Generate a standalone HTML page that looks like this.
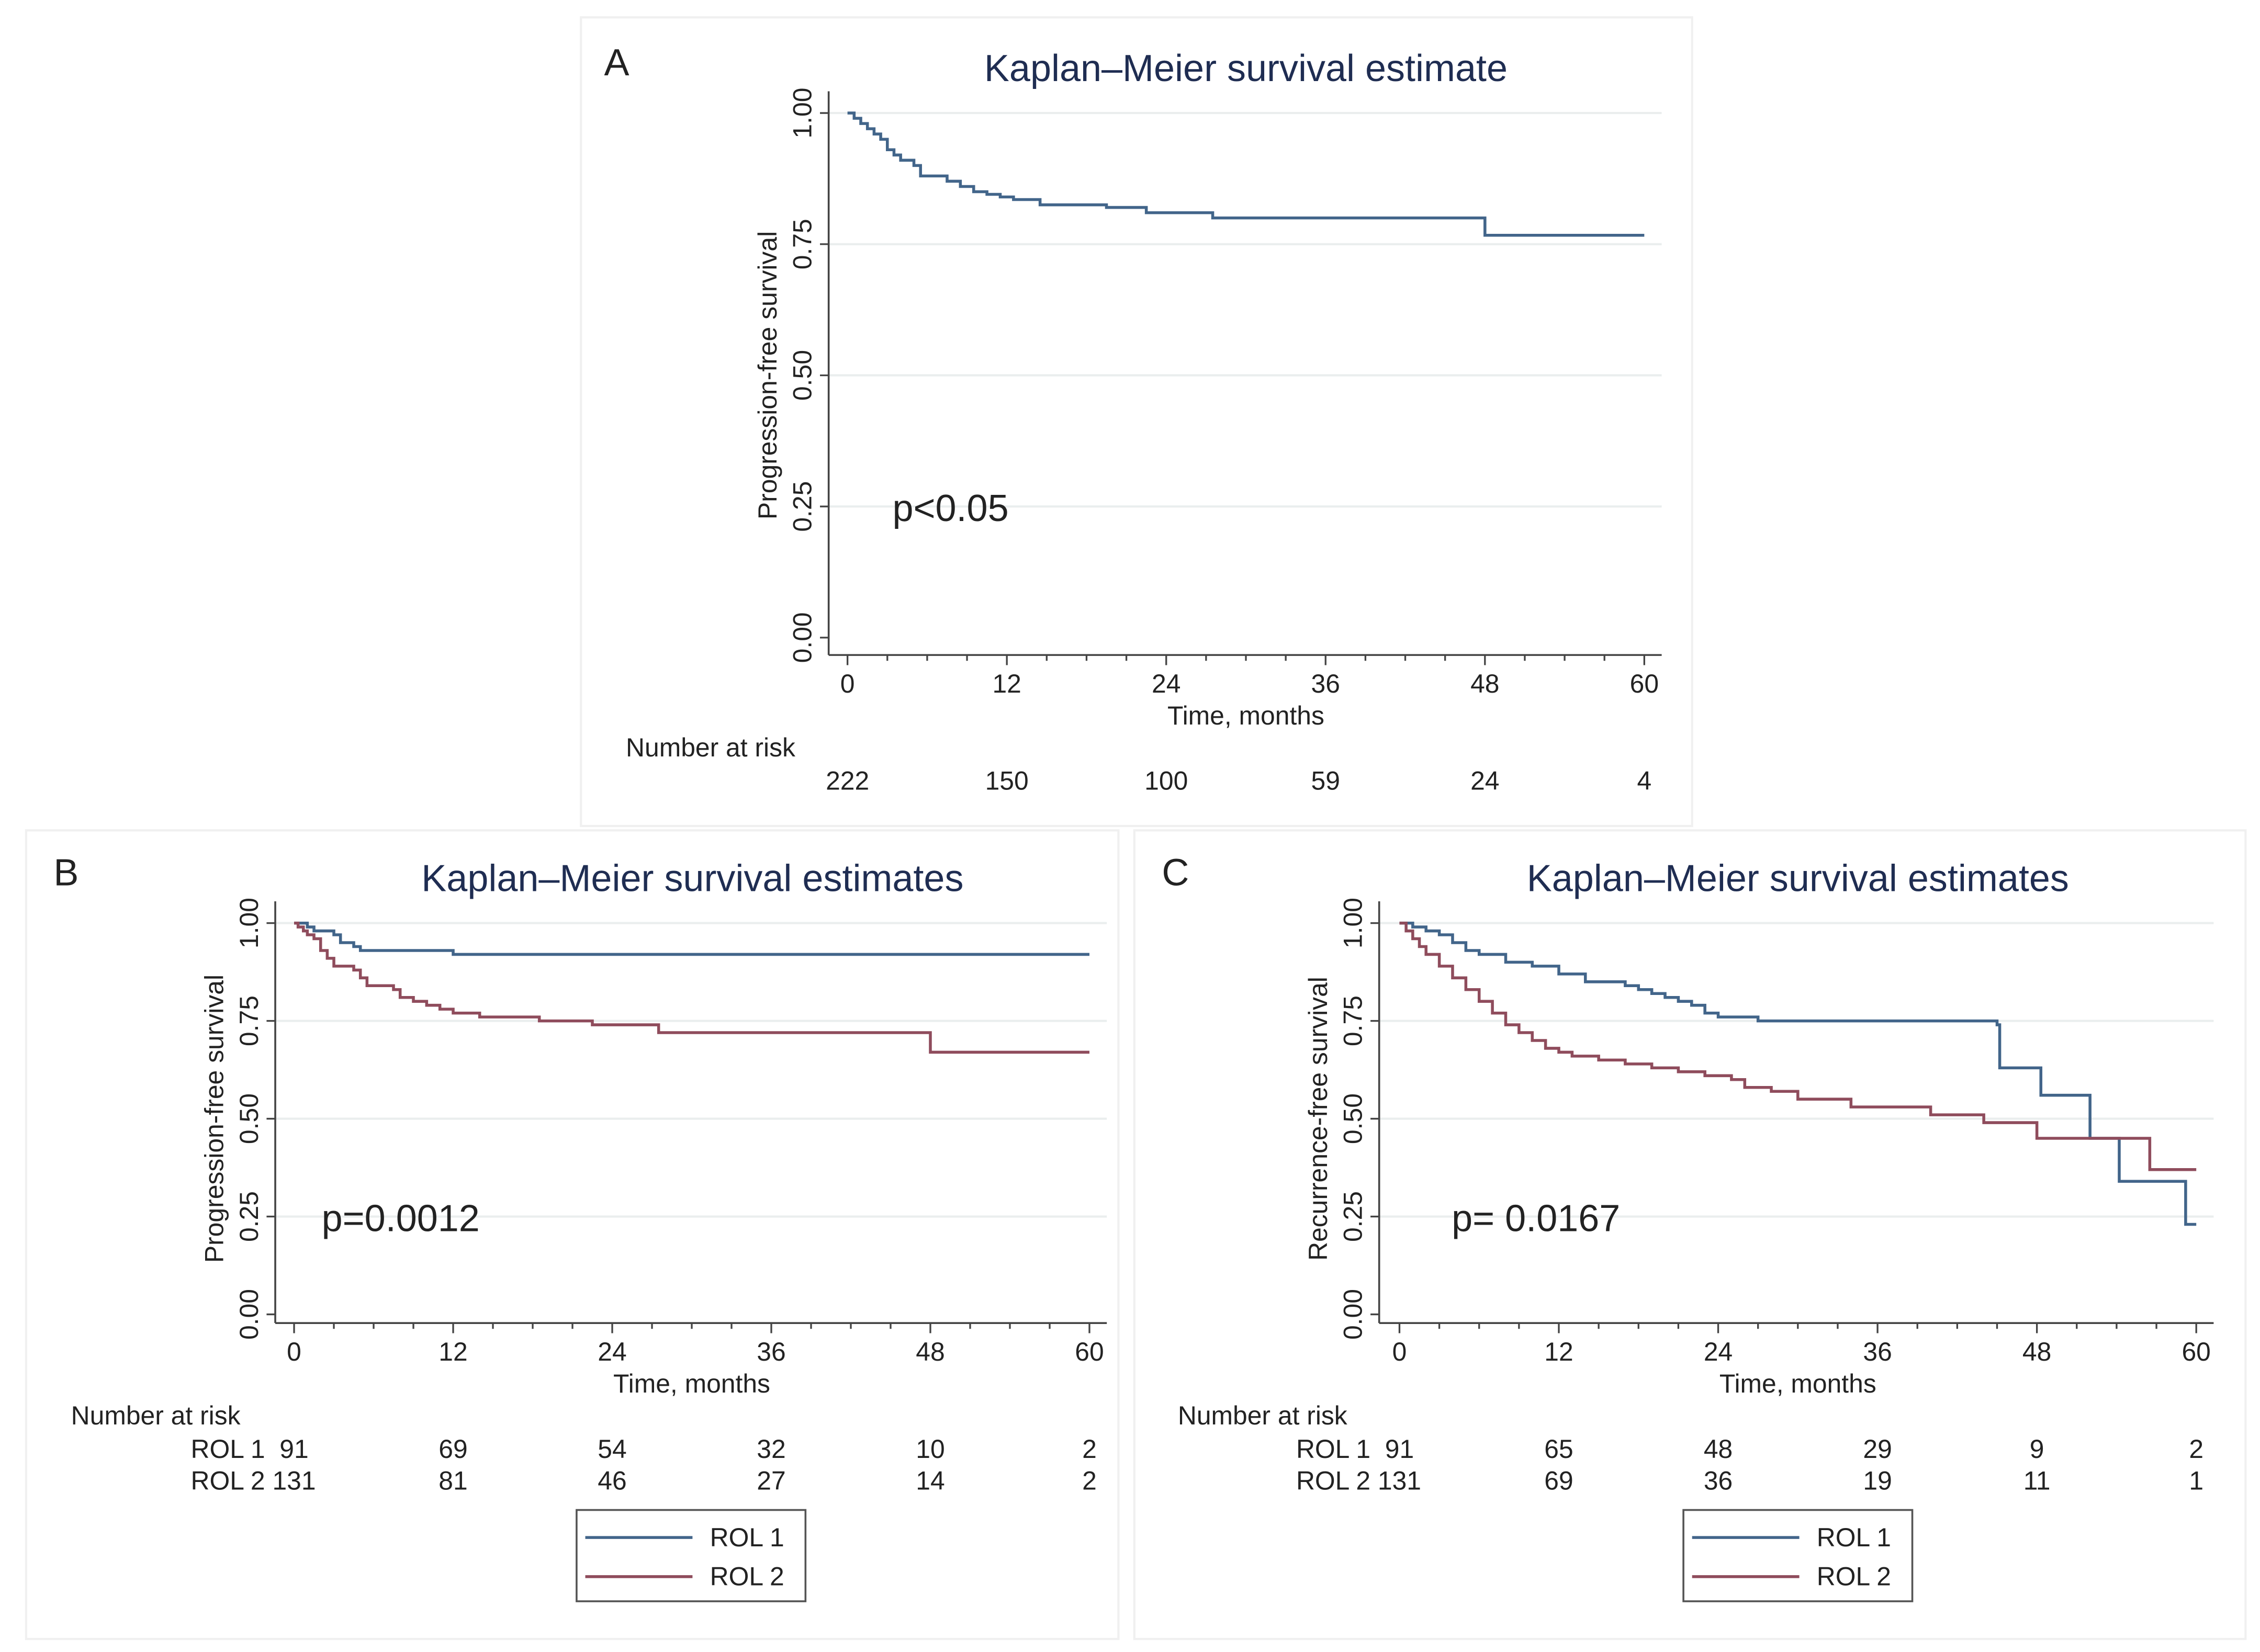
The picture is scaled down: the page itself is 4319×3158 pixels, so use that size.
<!DOCTYPE html>
<html><head><meta charset="utf-8"><style>
html,body{margin:0;padding:0;background:#fff;}
svg{display:block;}
text{font-family:"Liberation Sans",sans-serif;}
</style></head><body>
<svg id="fig" width="4319" height="3158" viewBox="0 0 1560 1140" preserveAspectRatio="none" xmlns="http://www.w3.org/2000/svg">
<rect x="0" y="0" width="1560" height="1140" fill="#fff"/>
<rect x="401" y="12" width="767" height="558" fill="none" stroke="#f0f0f0" stroke-width="1.5"/>
<rect x="18" y="573" width="754" height="558" fill="none" stroke="#f0f0f0" stroke-width="1.5"/>
<rect x="783" y="573" width="767" height="558" fill="none" stroke="#f0f0f0" stroke-width="1.5"/>
</svg>
<script>
// Panel A data
const aTimes = [0,0.5,1,1.5,2,2.5,3,3.5,4,5,5.5,7.5,8.5,9.5,10.5,11.5,12.5,14.5,19.5,22.5,27.5,48,60];
const aSurv  = [1,0.99,0.98,0.97,0.96,0.95,0.93,0.92,0.91,0.90,0.88,0.87,0.86,0.85,0.845,0.84,0.835,0.825,0.82,0.81,0.80,0.767,0.767];
const aRisk = [222,150,100,59,24,4];
// Panel B data
const bRol1Times = [0,1,1.5,3,3.5,4.5,5,12,60];
const bRol1Surv  = [1,0.99,0.98,0.97,0.95,0.94,0.93,0.92,0.92];
const bRol2Times = [0,0.3,0.7,1,1.5,2,2.5,3,4.5,5,5.5,7.5,8,9,10,11,12,14,18.5,22.5,27.5,48,60];
const bRol2Surv  = [1,0.99,0.98,0.97,0.96,0.93,0.91,0.89,0.88,0.86,0.84,0.83,0.81,0.80,0.79,0.78,0.77,0.76,0.75,0.74,0.72,0.67,0.67];
const bRisk1 = [91,69,54,32,10,2];
const bRisk2 = [131,81,46,27,14,2];
// Panel C data
const cRol1Times = [0,1,2,3,4,5,6,8,10,12,14,17,18,19,20,21,22,23,24,27,45,45.2,48.3,52,54.2,59.2,60];
const cRol1Surv  = [1,0.99,0.98,0.97,0.95,0.93,0.92,0.90,0.89,0.87,0.85,0.84,0.83,0.82,0.81,0.80,0.79,0.77,0.76,0.75,0.74,0.63,0.56,0.45,0.34,0.23,0.23];
const cRol2Times = [0,0.5,1,1.5,2,3,4,5,6,7,8,9,10,11,12,13,15,17,19,21,23,25,26,28,30,34,40,44,48,56.5,60];
const cRol2Surv  = [1,0.98,0.96,0.94,0.92,0.89,0.86,0.83,0.80,0.77,0.74,0.72,0.70,0.68,0.67,0.66,0.65,0.64,0.63,0.62,0.61,0.60,0.58,0.57,0.55,0.53,0.51,0.49,0.45,0.37,0.37];
const cRisk1 = [91,65,48,29,9,2];
const cRisk2 = [131,69,36,19,11,1];
const xTicks = [0,12,24,36,48,60];
const yTicks = [0,0.25,0.5,0.75,1];
const yTickLabels = ["0.00","0.25","0.50","0.75","1.00"];

const NS="http://www.w3.org/2000/svg";
const svg=document.getElementById('fig');
const BLUE="#42658a", RED="#8f4c5c", DARK="#222";
function mk(tag,attrs,parent){const e=document.createElementNS(NS,tag);for(const k in attrs)e.setAttribute(k,attrs[k]);(parent||svg).appendChild(e);return e;}
function txt(s,x,y,size,opts){const t=mk('text',Object.assign({x:x,y:y,'font-size':size,fill:DARK},opts||{}));t.textContent=s;return t;}

function panel(p){
  const g=mk('g',{});
  
  
  const sx=t=>p.x0+(t/60)*(p.x1-p.x0);
  const sy=v=>p.y0+(1-v)*(p.yb-p.y0);
  yTicks.forEach((v,i)=>{
    if(v>0){const gl=mk('line',{x1:p.ax,x2:p.x1+12,y1:sy(v),y2:sy(v),stroke:'#eaeeee','stroke-width':1.5},g);
    
    }
    mk('line',{x1:p.ax-6,x2:p.ax,y1:sy(v),y2:sy(v),stroke:'#444','stroke-width':1.2},g);
    const tl=txt(yTickLabels[i],0,0,18,{transform:`translate(${p.ax-12},${sy(v)}) rotate(-90)`,'text-anchor':'middle'});
    g.appendChild(tl);
    
    
  });
  const xa=mk('line',{x1:p.ax,x2:p.x1+12,y1:p.axY,y2:p.axY,stroke:'#444','stroke-width':1.3},g);
  
  
  const ya=mk('line',{x1:p.ax,x2:p.ax,y1:p.y0-15,y2:p.axY,stroke:'#444','stroke-width':1.3},g);
  
  
  for(let t=0;t<=60;t+=3){
    const major=t%12===0;
    mk('line',{x1:sx(t),x2:sx(t),y1:p.axY,y2:p.axY+(major?7:4),stroke:'#444','stroke-width':1.2},g);
  }
  xTicks.forEach(t=>{const l=txt(String(t),sx(t),p.axY+26,18,{'text-anchor':'middle'});g.appendChild(l);
    
    });
  const xt=txt('Time, months',(p.x0+p.x1)/2,p.axY+48,18,{'text-anchor':'middle'});g.appendChild(xt);
  
  
  const yt=txt(p.ylabel,0,0,18,{transform:`translate(${p.ax-36},${(p.y0+p.yb)/2}) rotate(-90)`,'text-anchor':'middle'});g.appendChild(yt);
  
  
  const ti=txt(p.title,p.tx,p.y0-22,26,{'text-anchor':'middle',fill:'#1f2d52'});g.appendChild(ti);
  
  
  const lt=txt(p.letter,p.lx,p.y0-26,26,{});g.appendChild(lt);
  
  
  const pv=txt(p.pval,p.px,sy(0.25)+10,26,{});g.appendChild(pv);
  
  
  p.series.forEach(s=>{
    let d=`M${sx(s.t[0])},${sy(s.v[0])}`;
    for(let i=1;i<s.t.length;i++){d+=` H${sx(s.t[i])} V${sy(s.v[i])}`;}
    const path=mk('path',{d:d,fill:'none',stroke:s.c,'stroke-width':2},g);
    
    
  });
  const nr=txt('Number at risk',p.nrx,p.axY+70,18,{});g.appendChild(nr);
  
  
  p.risks.forEach((r,ri)=>{
    const y=p.axY+93+ri*22;
    if(r.label){const rl=txt(r.label,p.x0-20,y,18,{'text-anchor':'end'});g.appendChild(rl);
      
      }
    r.vals.forEach((v,i)=>{const c=txt(String(v),sx(xTicks[i]),y,18,{'text-anchor':'middle'});g.appendChild(c);
      
      });
  });
  if(p.legend){
    const L=p.legend;
    const box=mk('rect',{x:L.x,y:L.y,width:158,height:63,fill:'#fff',stroke:'#555','stroke-width':1.3},g);
    
    
    [['ROL 1',BLUE],['ROL 2',RED]].forEach((e,i)=>{
      const yy=L.y+19+i*27;
      const ln=mk('line',{x1:L.x+6,x2:L.x+80,y1:yy,y2:yy,stroke:e[1],'stroke-width':2},g);
      
      
      const lt2=txt(e[0],L.x+92,yy+6,18,{});g.appendChild(lt2);
      
      
    });
  }
}

panel({id:'panel-a',x0:585,x1:1135,y0:78,yb:440,axY:452,ax:572,title:'Kaplan–Meier survival estimate',tx:860,letter:'A',lx:417,pval:'p<0.05',px:616,ylabel:'Progression-free survival',nrx:432,
  series:[{t:aTimes,v:aSurv,c:BLUE,name:'survival-curve'}],risks:[{label:'',vals:aRisk}]});
panel({id:'panel-b',x0:203,x1:752,y0:637,yb:907,axY:913,ax:190,title:'Kaplan–Meier survival estimates',tx:478,letter:'B',lx:37,pval:'p=0.0012',px:222,ylabel:'Progression-free survival',nrx:49,
  series:[{t:bRol1Times,v:bRol1Surv,c:BLUE,name:'rol1-curve'},{t:bRol2Times,v:bRol2Surv,c:RED,name:'rol2-curve'}],
  risks:[{label:'ROL 1',vals:bRisk1},{label:'ROL 2',vals:bRisk2}],legend:{x:398,y:1042}});
panel({id:'panel-c',x0:966,x1:1516,y0:637,yb:907,axY:913,ax:952,title:'Kaplan–Meier survival estimates',tx:1241,letter:'C',lx:802,pval:'p= 0.0167',px:1002,ylabel:'Recurrence-free survival',nrx:813,
  series:[{t:cRol1Times,v:cRol1Surv,c:BLUE,name:'rol1-curve'},{t:cRol2Times,v:cRol2Surv,c:RED,name:'rol2-curve'}],
  risks:[{label:'ROL 1',vals:cRisk1},{label:'ROL 2',vals:cRisk2}],legend:{x:1162,y:1042}});
</script>
</body></html>
